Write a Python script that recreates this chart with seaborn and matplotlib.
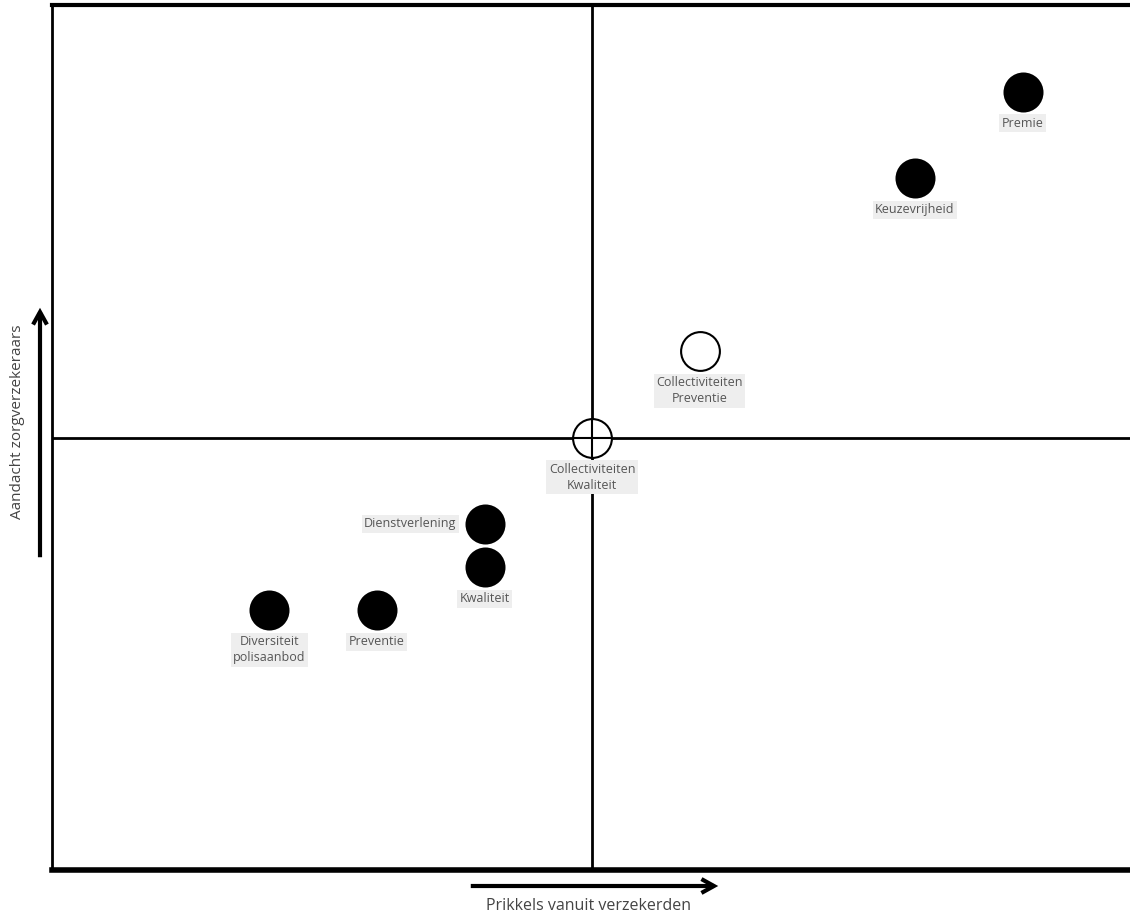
import numpy as np
import pandas as pd
import matplotlib.pyplot as plt
import matplotlib.patches as mpatches
import seaborn as sns

# Data
labels = ['Premie', 'Keuzevrijheid', 'Collectiviteiten\nPreventie', 'Collectiviteiten\nKwaliteit',
          'Dienstverlening', 'Kwaliteit', 'Diversiteit\npolisaanbod', 'Preventie']
x_vals = [4, 3, 1, 0, -1, -1, -3, -2]
y_vals = [4, 3, 1, 0, -1, -1.5, -2, -2]
filled = [True, True, False, False, True, True, True, True]
label_side = ['below', 'below', 'below', 'below', 'left', 'below', 'below', 'below']

df = pd.DataFrame({'x': x_vals, 'y': y_vals, 'label': labels, 'filled': filled, 'side': label_side})

sns.set_style('white')
plt.rcParams['font.family'] = ['Open Sans', 'DejaVu Sans']

fig = plt.figure(figsize=(11.3, 9.17), dpi=100)
ax = fig.add_axes([0.046, 0.0513, 0.956, 0.9432])

# quadrant lines
ax.axvline(0, color='black', lw=2, zorder=1)
ax.axhline(0, color='black', lw=2, zorder=1)

sns.scatterplot(data=df[df['filled']], x='x', y='y', s=830, color='black',
                edgecolor='black', linewidth=0, ax=ax, zorder=3, legend=False)
sns.scatterplot(data=df[~df['filled']], x='x', y='y', s=780, color='white',
                edgecolor='black', linewidth=1.5, ax=ax, zorder=3, legend=False)
# cross inside the centre marker
centre = df[df['x'] == 0]
ax.scatter(centre['x'], centre['y'], s=830, marker='+', color='black', linewidth=1.5, zorder=4)

box = dict(boxstyle='square,pad=0.2', facecolor='#eeeeee', edgecolor='none')
for _, r in df.iterrows():
    if r['side'] == 'left':
        ax.annotate(r['label'], (r['x'], r['y']), xytext=(-28, 0), textcoords='offset pixels',
                    ha='right', va='center', fontsize=9, color='#555555', bbox=box, zorder=5)
    else:
        ax.annotate(r['label'], (r['x'], r['y']), xytext=(0, -25), textcoords='offset pixels',
                    ha='center', va='top', fontsize=9, color='#555555', bbox=box,
                    linespacing=1.3, zorder=5)

ax.set_xlim(-5.02, 5.02)
ax.set_ylim(-5, 5)
ax.set_xticks([])
ax.set_yticks([])
ax.set_xlabel('')
ax.set_ylabel('')
for side, lw in [('left', 2), ('top', 3), ('bottom', 4), ('right', 3)]:
    ax.spines[side].set_visible(True)
    ax.spines[side].set_color('black')
    ax.spines[side].set_linewidth(lw)

# axis arrows and labels outside the frame
W, H = 1130, 917
for start, end in [((468, 886), (721, 886)), ((40, 560), (40, 305))]:
    fig.patches.append(mpatches.FancyArrowPatch(
        (start[0] / W, 1 - start[1] / H), (end[0] / W, 1 - end[1] / H), transform=fig.transFigure,
        arrowstyle='->,head_width=5,head_length=9', color='black', lw=3,
        mutation_scale=1, capstyle='butt', joinstyle='miter'))
fig.text(588 / W, 1 - 906 / H, 'Prikkels vanuit verzekerden', ha='center', va='center',
         fontsize=11.5, color='#444444')
fig.text(18 / W, 1 - 422 / H, 'Aandacht zorgverzekeraars', ha='center', va='center',
         rotation=90, fontsize=11, color='#444444')

fig.savefig('out.png', dpi=100)
